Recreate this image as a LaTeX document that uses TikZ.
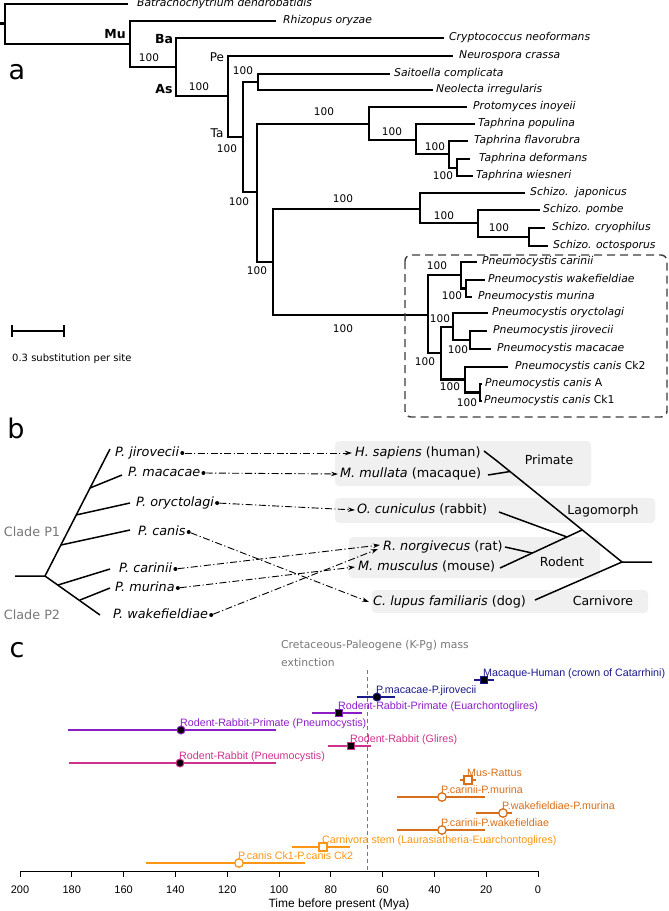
\documentclass[tikz,border=0pt]{standalone}
\usepackage{fontspec}
\setmainfont{DejaVu Sans}
\newfontfamily\arialf{Liberation Sans}
\usetikzlibrary{arrows.meta}
\definecolor{cnavy}{RGB}{25,25,140}
\definecolor{cpurp}{RGB}{140,30,200}
\definecolor{cpink}{RGB}{205,50,140}
\definecolor{corng}{RGB}{215,110,25}
\definecolor{cltor}{RGB}{250,150,20}
\definecolor{boxg}{RGB}{240,240,240}
\definecolor{tgray}{RGB}{120,120,120}
\definecolor{dgray}{RGB}{60,60,60}
\newcommand{\tipl}[5]{\coordinate (#1) at (#2,#3); \node[sp] (#1-l) at (#4,#3) {#5};}
\newcommand{\bsv}[3]{\node[bs] (#1) at (#2,#3) {100};}
\newcommand{\datum}[8]{%
  \draw[#2, line width=1.7pt] (#5,#4) -- (#6,#4);
  \node[#7=#2] (#1) at (#3,#4) {};
  \node[clab, text=#2, anchor=base west] (#1-l) at (#3-1,#4-3.5) {#8};}
\begin{document}
\begin{tikzpicture}[x=1pt,y=-1pt,
  tr/.style={line width=2.6pt, line join=miter},
  sp/.style={font=\fontsize{10.8}{12}\selectfont\itshape, inner sep=0pt, anchor=west, text height=8.5pt, text depth=2.6pt},
  bs/.style={font=\fontsize{10.5}{12}\selectfont, inner sep=0pt},
  bold/.style={font=\fontsize{12.5}{14}\selectfont\bfseries, inner sep=0pt},
  clade/.style={font=\fontsize{12}{14}\selectfont, inner sep=0pt},
  panel/.style={font=\fontsize{27}{30}\selectfont, inner sep=0pt},
  btr/.style={line width=1.5pt},
  bsp/.style={font=\fontsize{12.8}{14}\selectfont, inner sep=0pt, anchor=west, text height=10pt, text depth=3pt},
  gl/.style={font=\fontsize{12.5}{14}\selectfont, inner sep=0pt, text height=9.5pt, text depth=2.7pt},
  hbox/.style={fill=boxg, rounded corners=4pt},
  dotn/.style={circle, fill=black, inner sep=0pt, minimum size=4pt},
  arr/.style={line width=0.9pt, dash pattern=on 7pt off 2.5pt on 1.2pt off 2.5pt, -{Stealth[length=7pt,width=4.5pt]}},
  clab/.style={font=\arialf\fontsize{10.7}{12}\selectfont, inner sep=0pt},
  sqf/.style={rectangle, minimum size=7.5pt, inner sep=0pt, fill=black, draw=#1, line width=1pt},
  cif/.style={circle, minimum size=8pt, inner sep=0pt, fill=black, draw=#1, line width=1pt},
  sqo/.style={rectangle, minimum size=8pt, inner sep=0pt, fill=white, draw=#1, line width=1.3pt},
  cio/.style={circle, minimum size=8.5pt, inner sep=0pt, fill=white, draw=#1, line width=1.3pt}
]
\useasboundingbox (0,0) rectangle (669,911);
% ---------------- panel a ----------------
\node[panel] (la) at (17,72) {a};
\coordinate (root) at (5,23.5);
\coordinate (Mu) at (130,44);
\coordinate (Ba) at (176,67);
\coordinate (Pe) at (228,96);
\coordinate (Ta) at (243,137);
\coordinate (SN) at (258,82);
\coordinate (N1) at (257,192);
\coordinate (Tap) at (369,124);
\coordinate (T1) at (416,140);
\coordinate (T2) at (449,154);
\coordinate (T3) at (457,168);
\coordinate (N2) at (273,262);
\coordinate (Sch) at (420,209);
\coordinate (S1) at (478,223);
\coordinate (S2) at (529,237);
\coordinate (Pn) at (428,315);
\coordinate (P1) at (461,275);
\coordinate (P1b) at (466,288.5);
\coordinate (P2) at (441,353);
\coordinate (P3) at (453,327);
\coordinate (P3b) at (470,340);
\coordinate (P4) at (465,379.5);
\coordinate (P4b) at (480,392.5);
\tipl{bd}{128}{4}{137}{Batrachochytrium dendrobatidis}
\tipl{rh}{276}{21}{283}{Rhizopus oryzae}
\tipl{cn}{444}{38}{449}{Cryptococcus neoformans}
\tipl{nc}{453}{56}{459}{Neurospora crassa}
\tipl{sc}{390}{74}{394}{Saitoella complicata}
\tipl{ni}{433}{90}{436}{Neolecta irregularis}
\tipl{pi}{467}{107}{473}{Protomyces inoyeii}
\tipl{tp}{475}{124}{478}{Taphrina populina}
\tipl{tf}{468}{141}{474}{Taphrina flavorubra}
\tipl{td}{470}{159}{479}{Taphrina deformans}
\tipl{tw}{473}{176}{476}{Taphrina wiesneri}
\tipl{sj}{525}{193}{530}{Schizo.\ \ japonicus}
\tipl{spo}{540}{210}{543}{Schizo. pombe}
\tipl{scr}{545}{228}{552}{Schizo. cryophilus}
\tipl{soc}{548}{246}{553}{Schizo. octosporus}
\tipl{pca}{477}{262}{482}{Pneumocystis carinii}
\tipl{pwa}{485}{280}{488}{Pneumocystis wakefieldiae}
\tipl{pmu}{472}{297}{478}{Pneumocystis murina}
\tipl{por}{488}{313}{492}{Pneumocystis oryctolagi}
\tipl{pji}{487}{331}{493}{Pneumocystis jirovecii}
\tipl{pma}{491}{349}{497}{Pneumocystis macacae}
\tipl{pck2}{508}{367}{515}{Pneumocystis canis \textup{Ck2}}
\tipl{pA}{482}{384}{485}{Pneumocystis canis \textup{A}}
\tipl{pck1}{482}{401}{484}{Pneumocystis canis \textup{Ck1}}
\draw[tr] (0,23.5) -- (root);
\foreach \p/\c in {root/bd, root/Mu, Mu/rh, Mu/Ba, Ba/cn, Ba/Pe, Pe/nc, Pe/Ta, Ta/SN, Ta/N1, SN/sc, SN/ni, N1/Tap, N1/N2, Tap/pi, Tap/T1, T1/tp, T1/T2, T2/tf, T2/T3, T3/td, T3/tw, N2/Sch, N2/Pn, Sch/sj, Sch/S1, S1/spo, S1/S2, S2/scr, S2/soc, Pn/P1, Pn/P2, P1/pca, P1/P1b, P1b/pwa, P1b/pmu, P2/P3, P2/P4, P3/por, P3/P3b, P3b/pji, P3b/pma, P4/pck2, P4/P4b, P4b/pA, P4b/pck1}
  \draw[tr] (\p) |- (\c);
\node[bold] (lMu) at (115,34) {Mu};
\node[bold] (lBa) at (164,39) {Ba};
\node[bold] (lAs) at (164,89) {As};
\node[clade] (lPe) at (217,57) {Pe};
\node[clade] (lTa) at (217,133) {Ta};
\bsv{b1}{149}{58}
\bsv{b2}{199}{87}
\bsv{b3}{243}{71}
\bsv{b4}{227}{149}
\bsv{b5}{324}{112}
\bsv{b6}{392}{132}
\bsv{b7}{435}{147}
\bsv{b8}{443}{176}
\bsv{b9}{239}{202}
\bsv{b10}{343}{199}
\bsv{b11}{444}{216}
\bsv{b12}{499}{228}
\bsv{b13}{257}{271}
\bsv{b14}{343}{329}
\bsv{b15}{437}{266}
\bsv{b16}{452}{296}
\bsv{b17}{440}{319}
\bsv{b18}{458}{350}
\bsv{b19}{425}{362}
\bsv{b20}{450}{387}
\bsv{b21}{467}{403}
\draw[dgray, line width=1.4pt, dash pattern=on 8pt off 5pt, rounded corners=6pt] (405,255) rectangle (667,417);
% scale bar
\coordinate (sb1) at (12,331); \coordinate (sb2) at (64,331);
\draw[line width=1.2pt] (sb1) -- (sb2);
\draw[line width=1.2pt] ([yshift=-6pt]sb1) -- ([yshift=6pt]sb1);
\draw[line width=1.2pt] ([yshift=-6pt]sb2) -- ([yshift=6pt]sb2);
\node[font=\fontsize{10}{12}\selectfont, inner sep=0pt, anchor=west] (sbl) at (12,359) {0.3 substitution per site};
% ---------------- panel b ----------------
\node[panel] (lb) at (16,428) {b};
\fill[hbox] (335,441) rectangle (591,486);
\fill[hbox] (335,498) rectangle (655,523);
\fill[hbox] (349,537) rectangle (600,578);
\fill[hbox] (372,590) rectangle (648,613);
\node[gl] (gPr) at (549,461) {Primate};
\node[gl] (gLa) at (603,511) {Lagomorph};
\node[gl] (gRo) at (562,563) {Rodent};
\node[gl] (gCa) at (603,602) {Carnivore};
% pathogen tree
\coordinate (pr0) at (15,576); \coordinate (pr) at (45,576);
\coordinate (p1top) at (110,449); \coordinate (p2bot) at (100,615);
\coordinate (bma0) at (90,488); \coordinate (bma1) at (122,475);
\coordinate (bor0) at (76,515); \coordinate (bor1) at (130,503);
\coordinate (bca0) at (61,545); \coordinate (bca1) at (130,530);
\coordinate (bci0) at (58,585); \coordinate (bci1) at (110,569);
\coordinate (bmu0) at (80,600); \coordinate (bmu1) at (110,588);
\draw[btr] (pr0) -- (pr) -- (p1top);
\draw[btr] (pr) -- (p2bot);
\draw[btr] (bma0) -- (bma1);
\draw[btr] (bor0) -- (bor1);
\draw[btr] (bca0) -- (bca1);
\draw[btr] (bci0) -- (bci1);
\draw[btr] (bmu0) -- (bmu1);
\node[clade, text=tgray, font=\fontsize{12.8}{14}\selectfont] (cp1) at (32,532) {Clade P1};
\node[clade, text=tgray, font=\fontsize{12.8}{14}\selectfont] (cp2) at (32,615) {Clade P2};
\node[bsp] (pj) at (115,453) {\textit{P. jirovecii}};
\node[bsp] (pm) at (128,473) {\textit{P. macacae}};
\node[bsp] (po) at (136,503) {\textit{P. oryctolagi}};
\node[bsp] (pc) at (138,532) {\textit{P. canis}};
\node[bsp] (pci) at (119,569) {\textit{P. carinii}};
\node[bsp] (pmur) at (115,588) {\textit{P. murina}};
\node[bsp] (pw) at (113,615) {\textit{P. wakefieldiae}};
\foreach \n in {pj,pm,po,pc,pci,pmur,pw} \node[dotn] (d\n) at ([xshift=3pt]\n.east) {};
% hosts
\node[bsp] (hs) at (355,453) {\textit{H. sapiens} (human)};
\node[bsp] (hm) at (340,474) {\textit{M. mullata} (macaque)};
\node[bsp] (ho) at (357,510) {\textit{O. cuniculus} (rabbit)};
\node[bsp] (hr) at (383,547) {\textit{R. norgivecus} (rat)};
\node[bsp] (hmu) at (358,567) {\textit{M. musculus} (mouse)};
\node[bsp] (hc) at (373,602) {\textit{C. lupus familiaris} (dog)};
\coordinate (tpj) at (352,453);
\coordinate (tpm) at (338,474);
\coordinate (tpo) at (355,510);
\coordinate (tpc) at (369,602);
\coordinate (tpci) at (380,545);
\coordinate (tpmu) at (355,567);
\coordinate (tpw) at (378,549);
\draw[arr] (dpj) -- (tpj);
\draw[arr] (dpm) -- (tpm);
\draw[arr] (dpo) -- (tpo);
\draw[arr] (dpc) -- (tpc);
\draw[arr] (dpci) -- (tpci);
\draw[arr] (dpmur) -- (tpmu);
\draw[arr] (dpw) -- (tpw);
% host tree
\coordinate (hroot) at (622,562); \coordinate (hstub) at (652,562);
\coordinate (ptop) at (497,461); \coordinate (G) at (582,530);
\coordinate (hsE) at (484,451); \coordinate (hmE) at (488,475); \coordinate (hmJ) at (510,471.5);
\coordinate (hoE) at (499,512); \coordinate (hoJ) at (567,537);
\coordinate (hrE) at (505,547); \coordinate (hrJ) at (532,553);
\coordinate (hmuE) at (500,568); \coordinate (hcE) at (535,600);
\draw[btr] (hsE) -- (ptop) -- (hroot) -- (hstub);
\draw[btr] (hmE) -- (hmJ);
\draw[btr] (hmuE) -- (G);
\draw[btr] (hoE) -- (hoJ);
\draw[btr] (hrE) -- (hrJ);
\draw[btr] (hcE) -- (hroot);
% ---------------- panel c ----------------
\node[panel] (lc) at (17,650) {c};
\node[font=\fontsize{10.8}{12}\selectfont, text=tgray, inner sep=0pt, anchor=west] (kpg1) at (281,646) {Cretaceous-Paleogene (K-Pg) mass};
\node[font=\fontsize{10.8}{12}\selectfont, text=tgray, inner sep=0pt, anchor=west] (kpg2) at (281,662) {extinction};
\draw[tgray, line width=0.8pt, dash pattern=on 4pt off 3pt] (367,670) -- (367,871);
\draw[line width=0.8pt] (20,871) -- (538,871);
\foreach \v in {0,20,...,200} {
  \draw[line width=0.8pt] (538-2.59*\v,871) -- (538-2.59*\v,877);
  \node[font=\arialf\fontsize{11}{12}\selectfont, inner sep=0pt] (tk\v) at (538-2.59*\v,890) {\v};
}
\node[font=\arialf\fontsize{12}{13}\selectfont, inner sep=0pt] (axt) at (339,904) {Time before present (Mya)};
\datum{mh}{cnavy}{484}{680}{474}{494}{sqf}{Macaque-Human (crown of Catarrhini)}
\datum{mj}{cnavy}{377}{697}{357}{395}{cif}{P.macacae-P.jirovecii}
\datum{rrpe}{cpurp}{339}{713}{312}{362}{sqf}{Rodent-Rabbit-Primate (Euarchontoglires)}
\datum{rrpp}{cpurp}{181}{730}{68}{276}{cif}{Rodent-Rabbit-Primate (Pneumocystis)}
\datum{rrg}{cpink}{351}{746}{328}{371}{sqf}{Rodent-Rabbit (Glires)}
\datum{rrp}{cpink}{180}{763}{69}{276}{cif}{Rodent-Rabbit (Pneumocystis)}
\datum{mr}{corng}{468}{780}{460}{476}{sqo}{Mus-Rattus}
\datum{cm}{corng}{442}{797}{397}{485}{cio}{P.carinii-P.murina}
\datum{wm}{corng}{503}{813}{476}{512}{cio}{P.wakefieldiae-P.murina}
\datum{cw}{corng}{442}{830}{397}{485}{cio}{P.carinii-P.wakefieldiae}
\datum{cs}{cltor}{323}{847}{292}{350}{sqo}{Carnivora stem (Laurasiatheria-Euarchontoglires)}
\datum{pcc}{cltor}{239}{863}{146}{305}{cio}{P.canis Ck1-P.canis Ck2}
\end{tikzpicture}
\end{document}
